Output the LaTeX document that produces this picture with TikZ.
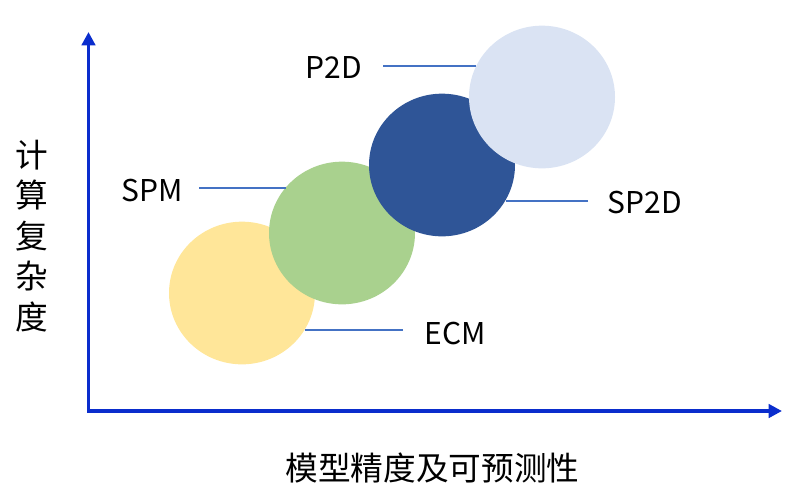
\documentclass[tikz,border=0pt]{standalone}
\usepackage{fontspec}
\setmainfont{Noto Sans CJK SC}
\usepackage{tikz}
\usetikzlibrary{arrows.meta,calc,shapes.geometric}

\definecolor{axisblue}{RGB}{10,45,205}
\definecolor{leadblue}{RGB}{68,114,196}
\definecolor{ecmfill}{RGB}{255,230,153}
\definecolor{spmfill}{RGB}{169,209,142}
\definecolor{sptdfill}{RGB}{47,85,151}
\definecolor{ptdfill}{RGB}{218,227,243}

\begin{document}
\begin{tikzpicture}[x=0.75pt, y=-0.75pt,
    bubble/.style={ellipse, minimum width=109.5pt, minimum height=107pt, inner sep=0pt, draw=none},
    lbl/.style={inner sep=0pt, font=\fontsize{22.5pt}{27pt}\selectfont},
    leader/.style={draw=leadblue, line width=0.8pt},
    axisline/.style={draw=axisblue, line width=2.6pt, line join=miter}]
    \useasboundingbox (0,0) rectangle (803,501);
    %% Axes
    \coordinate (origin) at (88.5,411);
    \coordinate (ytop) at (88.5,32);
    \coordinate (xend) at (782,411);
    \draw[axisline, {Triangle[length=10pt,width=10pt]}-{Triangle[length=10pt,width=10pt]}] (ytop) -- (origin) -- (xend);
    \node[inner sep=0pt, align=center, font=\fontsize{24.5pt}{30.4pt}\selectfont] (ylabel) at (31.5,236) {计\\算\\复\\杂\\度};
    \node[inner sep=0pt, font=\fontsize{24.5pt}{30pt}\selectfont] (xlabel) at (432.5,467.5) {模型精度及可预测性};
    %% Models
    \node[bubble, fill=ecmfill] (ecm) at (242,293) {};
    \node[bubble, fill=spmfill] (spm) at (342,233) {};
    \node[bubble, fill=sptdfill] (sptd) at (442,165) {};
    \node[bubble, fill=ptdfill] (ptd) at (542,97) {};
    %% Labels
    \node[lbl] (ptdlabel) at (333.5,67) {P2D};
    \node[lbl] (spmlabel) at (152,190.5) {SPM};
    \node[lbl] (sptdlabel) at (645,202.5) {SP2D};
    \node[lbl] (ecmlabel) at (455,333.5) {ECM};
    \coordinate (ptdend) at (383,66);
    \coordinate (spmend) at (199,188);
    \coordinate (sptdend) at (588,201);
    \coordinate (ecmend) at (403,330);
    \draw[leader] (ptdend) -- (ptdend -| ptd.154.7);
    \draw[leader] (spmend) -- (spmend -| spm.141.7);
    \draw[leader] (sptdend) -- (sptdend -| sptd.-29.8);
    \draw[leader] (ecmend) -- (ecmend -| ecm.-30.7);
\end{tikzpicture}
\end{document}
